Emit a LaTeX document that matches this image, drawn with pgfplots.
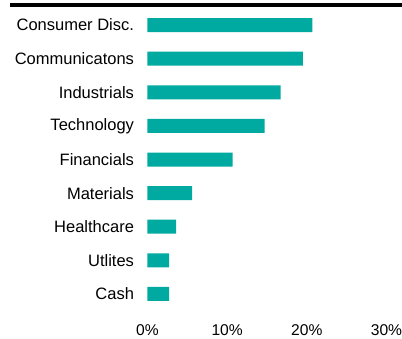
\documentclass[border=0pt]{standalone}
\usepackage{fontspec}
\setmainfont{Liberation Sans}
\usepackage{pgfplots}
\pgfplotsset{compat=1.18}
\definecolor{barteal}{RGB}{0,170,160}
\begin{document}
\begin{tikzpicture}
\path[use as bounding box] (0pt,0pt) rectangle (402pt,338pt);
\fill[black] (10pt,331.3pt) rectangle (402pt,335.3pt);
\begin{axis}[
  at={(147.5pt,27.2pt)}, anchor=south west,
  scale only axis, width=239pt, height=302.6pt,
  xbar, bar width=14pt,
  xmin=0, xmax=30, ymin=-0.5, ymax=8.5,
  xtick={0,10,20,30},
  xticklabels={0\%,10\%,20\%,30\%},
  ytick={0,...,8},
  yticklabels={Cash,Utlites,Healthcare,Materials,Financials,Technology,Industrials,Communicatons,Consumer Disc.},
  axis line style={draw=none},
  tick style={draw=none},
  major tick length=0pt,
  /pgf/number format/assume math mode=true,
  xticklabel style={font=\fontsize{15.6pt}{18pt}\selectfont, yshift=-10pt},
  yticklabel style={font=\fontsize{16.5pt}{19pt}\selectfont, xshift=-10pt},
  clip=false,
]
\addplot[fill=barteal, draw=none] coordinates {
(2.7,0) (2.7,1) (3.6,2) (5.6,3) (10.7,4) (14.7,5) (16.7,6) (19.5,7) (20.7,8)
};
\end{axis}
\end{tikzpicture}
\end{document}
